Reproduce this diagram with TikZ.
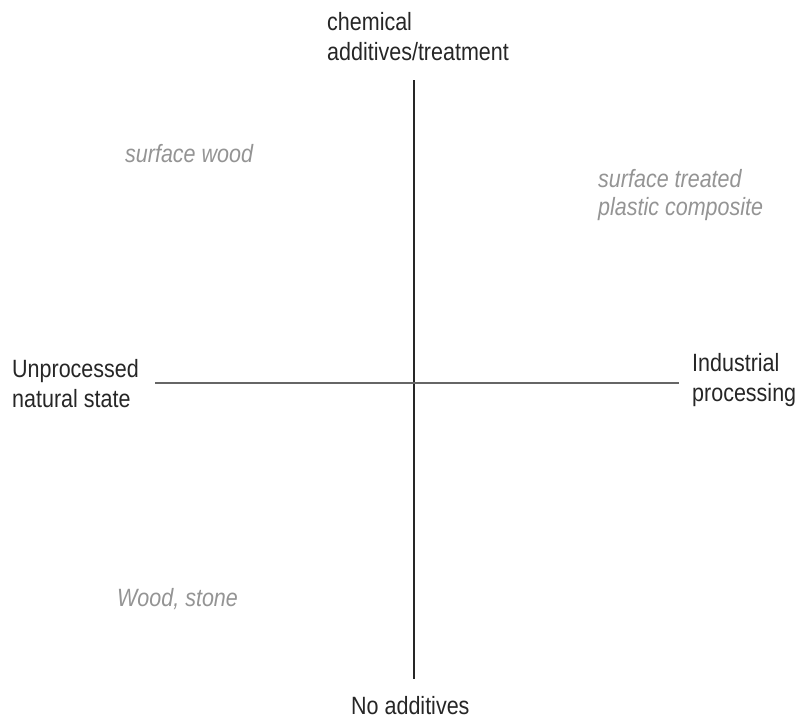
\documentclass[tikz,border=0pt]{standalone}
\usepackage{fontspec}
\setmainfont{Liberation Sans}[FakeStretch=0.86]
\begin{document}
\begin{tikzpicture}[x=1pt,y=-1pt,
  axlabel/.style={inner sep=0pt, anchor=base west, align=left, font=\fontsize{25}{30}\selectfont, text=black!85},
  glabel/.style={inner sep=0pt, anchor=base west, align=left, font=\fontsize{25}{28}\selectfont\itshape, text=black!42},
  vaxis/.style={draw=black!85, line width=1.3pt},
  haxis/.style={draw=black!60, line width=1.6pt}]
\useasboundingbox (0,0) rectangle (798,718);
\node[axlabel] (top) at (327,60) {chemical\\additives/treatment};
\node[axlabel] (bottom) at (351,714) {No additives};
\node[axlabel] (left) at (12,407) {Unprocessed\\natural state};
\node[axlabel] (right) at (692,401) {Industrial\\processing};
\node[glabel] (sw) at (125,162) {surface wood};
\node[glabel] (stp) at (598,215) {surface treated\\plastic composite};
\node[glabel] (ws) at (117,606) {Wood, stone};
\coordinate (vt) at (414,80);
\coordinate (vb) at (414,679);
\coordinate (hl) at (155,383);
\coordinate (hr) at (679,383);
\draw[vaxis] (vt) -- (vb);
\draw[haxis] (hl) -- (hr);
\end{tikzpicture}
\end{document}
